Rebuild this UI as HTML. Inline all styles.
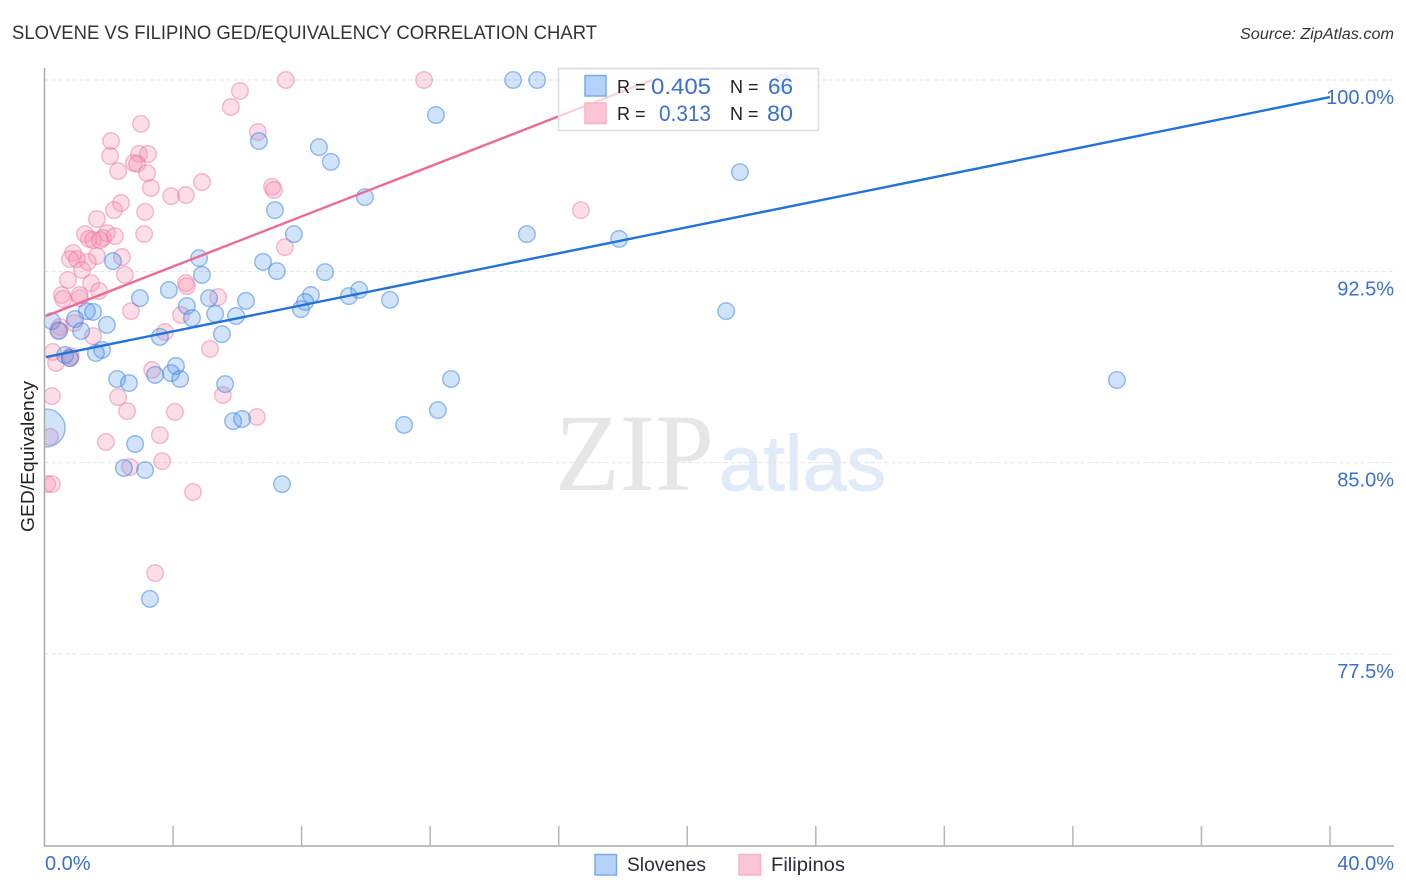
<!DOCTYPE html>
<html lang="en">
<head>
<meta charset="utf-8">
<title>Slovene vs Filipino GED/Equivalency Correlation Chart</title>
<style>
html,body{margin:0;padding:0;background:#fff;width:1406px;height:892px;overflow:hidden;}
svg{display:block;font-family:"Liberation Sans",sans-serif;}
</style>
</head>
<body>
<svg id="chart" xmlns="http://www.w3.org/2000/svg" width="1406" height="892" viewBox="0 0 1406 892">
  <rect x="0" y="0" width="1406" height="892" fill="#ffffff"/>
  <text x="12" y="39" font-size="19" fill="#333333" textLength="585" lengthAdjust="spacingAndGlyphs">SLOVENE VS FILIPINO GED/EQUIVALENCY CORRELATION CHART</text>
  <text x="1394" y="39" font-size="15.5" font-style="italic" fill="#333333" text-anchor="end" textLength="154" lengthAdjust="spacingAndGlyphs">Source: ZipAtlas.com</text>

  <g>
    <text x="555" y="490" font-family="'Liberation Serif',serif" font-size="110" fill="#e6e6e6" textLength="159" lengthAdjust="spacingAndGlyphs">ZIP</text>
    <text x="719" y="490" font-family="'Liberation Sans',sans-serif" font-size="78" fill="#e1eaf8" stroke="#e1eaf8" stroke-width="1" textLength="167" lengthAdjust="spacingAndGlyphs">atlas</text>
  </g>

  <g id="grid"></g>
  <g id="pink-points"></g>
  <g id="blue-points"></g>
  <rect x="0" y="60" width="44.5" height="786" fill="#ffffff"/>
  <g id="trends"></g>
  <g id="axes"></g>
  <g id="tick-labels"></g>

  <text transform="translate(34,456.5) rotate(-90)" font-size="18" fill="#222222" text-anchor="middle" textLength="151" lengthAdjust="spacingAndGlyphs">GED/Equivalency</text>

  <g>
    <rect x="558.5" y="68.5" width="260" height="62" fill="#ffffff" fill-opacity="0.7" stroke="#dddddd" stroke-width="1.5"/>
    <rect x="585" y="75.5" width="21" height="20.5" fill="#b5d1f7" stroke="#7daae6" stroke-width="1.5"/>
    <rect x="585" y="103" width="21" height="20.5" fill="#fcc5d6" stroke="#f5b3c8" stroke-width="1.5"/>
    <text x="617" y="93" font-size="18" fill="#222222">R =</text>
    <text x="651" y="94" font-size="22" fill="#3b6fd0" textLength="60" lengthAdjust="spacingAndGlyphs">0.405</text>
    <text x="730" y="93" font-size="18" fill="#222222">N =</text>
    <text x="768" y="94" font-size="22" fill="#3b6fd0" textLength="25" lengthAdjust="spacingAndGlyphs">66</text>
    <text x="617" y="120" font-size="18" fill="#222222">R =</text>
    <text x="659" y="121" font-size="22" fill="#3b6fd0" textLength="52" lengthAdjust="spacingAndGlyphs">0.313</text>
    <text x="730" y="120" font-size="18" fill="#222222">N =</text>
    <text x="767" y="121" font-size="22" fill="#3b6fd0" textLength="26" lengthAdjust="spacingAndGlyphs">80</text>
  </g>

  <g>
    <rect x="595" y="854.5" width="21.5" height="20.5" fill="#b5d1f7" stroke="#7daae6" stroke-width="1.5"/>
    <text x="627" y="871" font-size="19" fill="#2b2b3a" textLength="79" lengthAdjust="spacingAndGlyphs">Slovenes</text>
    <rect x="739" y="854.5" width="21.5" height="20.5" fill="#fcc5d6" stroke="#f5b3c8" stroke-width="1.5"/>
    <text x="771" y="871" font-size="19" fill="#2b2b3a" textLength="74" lengthAdjust="spacingAndGlyphs">Filipinos</text>
  </g>
</svg>
<script>
// Chart data, in chart units (percent)
const yTickValues = [100, 92.5, 85, 77.5];
const yTickLabels = ["100.0%", "92.5%", "85.0%", "77.5%"];
const xTickValues = [4, 8, 12, 16, 20, 24, 28, 32, 36, 40];
const xEndLabels = ["0.0%", "40.0%"];

const sloveneX = [14.58,15.33,22.98,12.18,21.64,6.67,8.54,8.91,9.97,7.17,7.76,15.01,17.88,4.81,6.80,2.13,4.90,7.23,8.73,2.97,3.87,8.29,8.11,7.98,9.47,9.79,10.75,5.12,6.27,4.43,5.31,5.96,4.59,21.21,1.32,1.51,0.95,1.94,1.14,0.23,0.45,5.52,3.59,1.79,1.60,0.64,0.79,4.09,3.94,3.44,4.22,2.26,2.63,5.62,12.65,33.37,12.24,11.19,5.87,6.15,2.82,2.47,3.13,7.39,3.28,0.05];
const sloveneY = [100,100,99.88,98.63,96.39,97.61,97.37,96.79,95.41,94.90,93.96,93.96,93.77,93.02,92.87,92.90,92.36,92.51,92.47,91.45,91.77,91.57,91.30,91.02,91.53,91.77,91.38,91.45,91.34,91.14,90.83,90.75,90.67,90.94,90.94,90.91,90.63,90.40,90.16,90.55,90.16,90.04,89.93,89.42,89.30,89.22,89.10,88.79,88.51,88.44,88.28,88.28,88.12,88.08,88.28,88.24,87.06,86.48,86.63,86.71,85.73,84.79,84.71,84.16,79.66,86.36];

const filipinoX = [7.51,11.81,6.08,5.80,3.00,6.64,2.07,2.04,2.94,3.22,2.78,2.88,2.29,3.19,3.31,7.08,7.14,4.90,3.94,4.40,2.38,2.16,3.13,16.69,1.63,3.10,1.26,1.38,1.82,1.94,2.19,1.51,1.73,7.48,0.89,2.41,0.79,1.01,1.63,1.35,1.17,2.50,0.73,1.45,4.40,4.43,1.70,0.54,0.58,1.10,5.40,2.69,4.25,1.51,3.75,0.48,0.42,0.92,5.15,0.26,0.36,0.82,3.35,5.55,0.23,2.29,2.57,4.06,6.61,3.59,0.17,1.91,2.66,3.66,4.62,0.08,0.23,3.44,0.79,1.09];
const filipinoY = [100,100,99.57,98.94,98.28,97.96,97.61,97.02,97.10,97.10,96.75,96.71,96.43,96.35,95.77,95.81,95.69,96.00,95.45,95.49,95.18,94.90,94.83,94.90,94.55,93.96,93.96,93.77,93.81,94.00,93.88,93.73,93.73,93.45,93.22,93.06,92.98,92.98,93.10,92.87,92.55,92.36,92.16,92.04,92.04,91.92,91.73,91.57,91.42,91.45,91.49,90.94,90.79,89.96,90.12,90.32,90.20,90.47,89.46,89.34,88.91,89.18,88.63,87.65,87.61,87.57,87.02,86.99,86.79,86.08,86.01,85.81,84.83,85.06,83.85,84.16,84.16,80.67,89.10,91.57];

const sloveneTrendX = [0.05, 40];
const sloveneTrendY = [89.14, 99.33];
const filipinoTrendX = [0.05, 18.9];
const filipinoTrendY = [90.75, 100];

// Index of the one heavily weighted Slovene observation
const heavySloveneIndex = 65;

// Axis functions
const NS = 'http://www.w3.org/2000/svg';
function scaleX(v) { return 44.5 + v * (1330 - 44.5) / 40; }
function scaleY(v) { return 80 + (100 - v) * (654 - 80) / 22.5; }

function make(tag, attrs, parent) {
  const el = document.createElementNS(NS, tag);
  for (const k in attrs) el.setAttribute(k, attrs[k]);
  parent.appendChild(el);
  return el;
}

const gridLayer = document.getElementById('grid');
const axesLayer = document.getElementById('axes');
const labelLayer = document.getElementById('tick-labels');
const pinkLayer = document.getElementById('pink-points');
const blueLayer = document.getElementById('blue-points');
const trendLayer = document.getElementById('trends');

yTickValues.forEach(function (v, i) {
  const gy = scaleY(v);
  const line = make('line', {x1: 44.5, x2: 1394, y1: gy, y2: gy, stroke: '#e2e2e2', 'stroke-width': 1, 'stroke-dasharray': '4 3'}, gridLayer);
  
  
  const label = make('text', {x: 1394, y: gy + 24, 'font-size': 20, fill: '#3b6fd0', 'text-anchor': 'end'}, labelLayer);
  label.textContent = yTickLabels[i];
  
  
});

const yAxis = make('line', {x1: 44.5, x2: 44.5, y1: 68, y2: 846, stroke: '#aaaaaa', 'stroke-width': 1.5}, axesLayer);


const xAxis = make('line', {x1: 44, x2: 1394, y1: 846, y2: 846, stroke: '#aaaaaa', 'stroke-width': 1.5}, axesLayer);



xTickValues.forEach(function (v) {
  const tx = scaleX(v);
  const tick = make('line', {x1: tx, x2: tx, y1: 826, y2: 846, stroke: '#b5b5b5', 'stroke-width': 1.5}, axesLayer);
  
  
});

const xLabelLeft = make('text', {x: 45, y: 870, 'font-size': 20, fill: '#3b6fd0'}, labelLayer);
xLabelLeft.textContent = xEndLabels[0];


const xLabelRight = make('text', {x: 1394, y: 870, 'font-size': 20, fill: '#3b6fd0', 'text-anchor': 'end'}, labelLayer);
xLabelRight.textContent = xEndLabels[1];



filipinoX.forEach(function (v, i) {
  const dot = make('circle', {cx: scaleX(v), cy: scaleY(filipinoY[i]), r: 8.3, fill: '#f78fb0', 'fill-opacity': 0.3, stroke: '#ec6f98', 'stroke-opacity': 0.45, 'stroke-width': 1.4}, pinkLayer);
  
  
});

sloveneX.forEach(function (v, i) {
  const radius = i === heavySloveneIndex ? 19 : 8.3;
  const dot = make('circle', {cx: scaleX(v), cy: scaleY(sloveneY[i]), r: radius, fill: '#5b9bea', 'fill-opacity': 0.28, stroke: '#2f7de0', 'stroke-opacity': 0.5, 'stroke-width': 1.4}, blueLayer);
  
  
});

const blueTrend = make('line', {x1: scaleX(sloveneTrendX[0]), y1: scaleY(sloveneTrendY[0]), x2: scaleX(sloveneTrendX[1]), y2: scaleY(sloveneTrendY[1]), stroke: '#2272d8', 'stroke-width': 2.4}, trendLayer);


const pinkTrend = make('line', {x1: scaleX(filipinoTrendX[0]), y1: scaleY(filipinoTrendY[0]), x2: scaleX(filipinoTrendX[1]), y2: scaleY(filipinoTrendY[1]), stroke: '#ec6a97', 'stroke-width': 2.4}, trendLayer);


</script>
</body>
</html>
